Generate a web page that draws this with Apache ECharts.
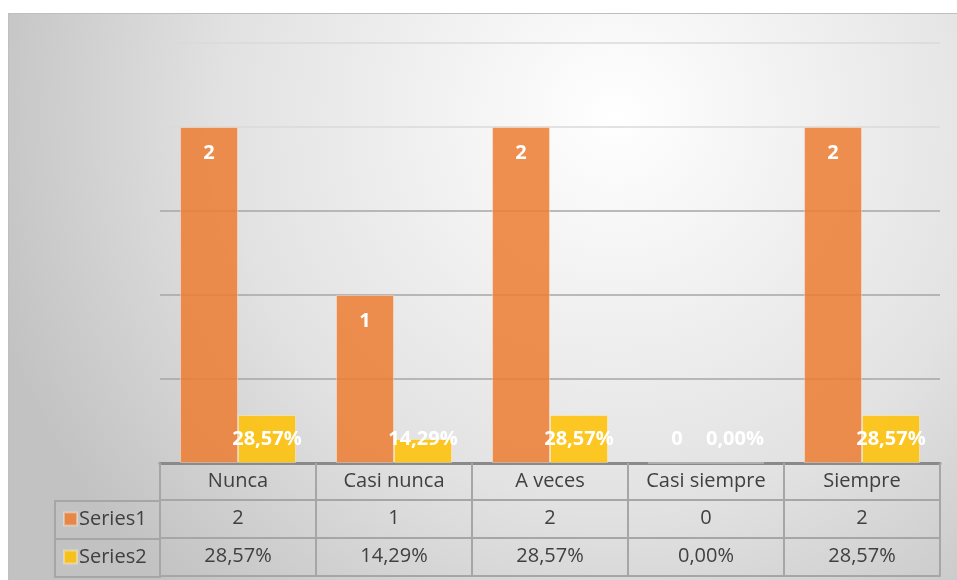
<!DOCTYPE html>
<html>
<head>
<meta charset="utf-8">
<script src="https://cdn.jsdelivr.net/npm/echarts@6/dist/echarts.min.js"></script>
<style>
    html, body { margin: 0; padding: 0; background: #ffffff; }
    #frame {
        position: absolute; left: 8px; top: 13px; width: 949px; height: 567px;
        border-top: 1px solid #bfbfbf; border-left: 1px solid #bfbfbf; box-sizing: border-box;
    }
    #chart { width: 100%; height: 100%; }
</style>
</head>
<body>
<div id="frame"><div id="chart"></div></div>
<script>
    // datos
    const categories = ['Nunca', 'Casi nunca', 'A veces', 'Casi siempre', 'Siempre'];
    const series1 = [2, 1, 2, 0, 2];
    const series2 = [0.2857, 0.1429, 0.2857, 0, 0.2857];
    const yTicks = { min: 0, max: 2.5, interval: 0.5 };

    const pct = v => (v * 100).toFixed(2).replace('.', ',') + '%';

    const font = '"Open Sans", "Noto Sans", sans-serif';
    const tableColor = '#404040';
    const borderColor = '#a6a6a6';

    const tableAxis = (offset, labels, showLabels) => ({
        type: 'category',
        position: 'bottom',
        offset: offset,
        data: categories,
        axisLine: { show: true, lineStyle: { color: borderColor, width: 2 } },
        axisTick: { show: false },
        splitLine: { show: false },
        axisLabel: {
            show: showLabels,
            margin: 8,
            color: tableColor,
            fontFamily: font,
            fontSize: 20,
            formatter: (v, i) => labels ? labels[i] : v
        }
    });

    const chart = echarts.init(document.getElementById('chart'));
    chart.setOption({
        backgroundColor: {
            type: 'radial', x: 0.64, y: 0.18, r: 1.15,
            colorStops: [
                { offset: 0, color: '#ffffff' },
                { offset: 0.6, color: '#e2e2e2' },
                { offset: 1, color: '#c2c2c2' }
            ]
        },
        animation: false,
        textStyle: { fontFamily: font },
        grid: { left: 151, right: 17, top: 29, bottom: 117, containLabel: false },
        legend: {
            orient: 'vertical',
            left: 49,
            top: 490,
            itemWidth: 13,
            itemHeight: 13,
            itemGap: 18,
            icon: 'rect',
            textStyle: { color: tableColor, fontSize: 20, lineHeight: 20, padding: [0, 0, 0, -3] },
            data: ['Series1', 'Series2']
        },
        xAxis: [
            {
                type: 'category',
                position: 'bottom',
                data: categories,
                axisLine: { show: true, lineStyle: { color: '#8a8a8a', width: 3 } },
                axisTick: { show: true, interval: 0, length: 113, lineStyle: { color: borderColor, width: 2 } },
                axisLabel: { margin: 8, color: tableColor, fontSize: 20, fontFamily: font },
                splitLine: { show: false }
            },
            tableAxis(37, series1, true),
            tableAxis(75, series2.map(pct), true),
            tableAxis(113, null, false)
        ],
        yAxis: {
            type: 'value',
            min: yTicks.min,
            max: yTicks.max,
            interval: yTicks.interval,
            axisLabel: { show: false },
            axisLine: { show: false },
            axisTick: { show: false },
            splitLine: {
                lineStyle: {
                    width: 1.5,
                    color: ['#a6a6a6', '#a6a6a6', '#a6a6a6', '#a6a6a6', '#dadada', '#dadada']
                }
            }
        },
        graphic: [
            { type: 'line', shape: { x1: 46, y1: 487, x2: 152, y2: 487 }, style: { stroke: borderColor, lineWidth: 2 } },
            { type: 'line', shape: { x1: 46, y1: 525, x2: 152, y2: 525 }, style: { stroke: borderColor, lineWidth: 2 } },
            { type: 'line', shape: { x1: 46, y1: 563, x2: 152, y2: 563 }, style: { stroke: borderColor, lineWidth: 2 } },
            { type: 'line', shape: { x1: 46, y1: 486, x2: 46, y2: 564 }, style: { stroke: borderColor, lineWidth: 2 } }
        ],
        series: [
            {
                name: 'Series1',
                type: 'bar',
                barGap: '0%',
                barCategoryGap: '25.7%',
                itemStyle: { color: 'rgba(237,125,49,0.85)', borderColor: 'rgba(255,255,255,0.35)', borderWidth: 1 },
                label: {
                    show: true, position: 'insideTop', distance: 16,
                    color: '#ffffff', fontWeight: 'bold', fontSize: 20, fontFamily: font
                },
                data: series1.map(v => v === 0
                    ? { value: v, label: { position: 'insideBottom', distance: 14 } }
                    : v)
            },
            {
                name: 'Series2',
                type: 'bar',
                itemStyle: { color: 'rgba(255,192,0,0.85)', borderColor: 'rgba(255,255,255,0.35)', borderWidth: 1 },
                label: {
                    show: true, position: 'insideBottom', distance: 14,
                    color: '#ffffff', fontWeight: 'bold', fontSize: 20, fontFamily: font,
                    formatter: p => pct(p.value)
                },
                data: series2
            }
        ]
    });
</script>
</body>
</html>
